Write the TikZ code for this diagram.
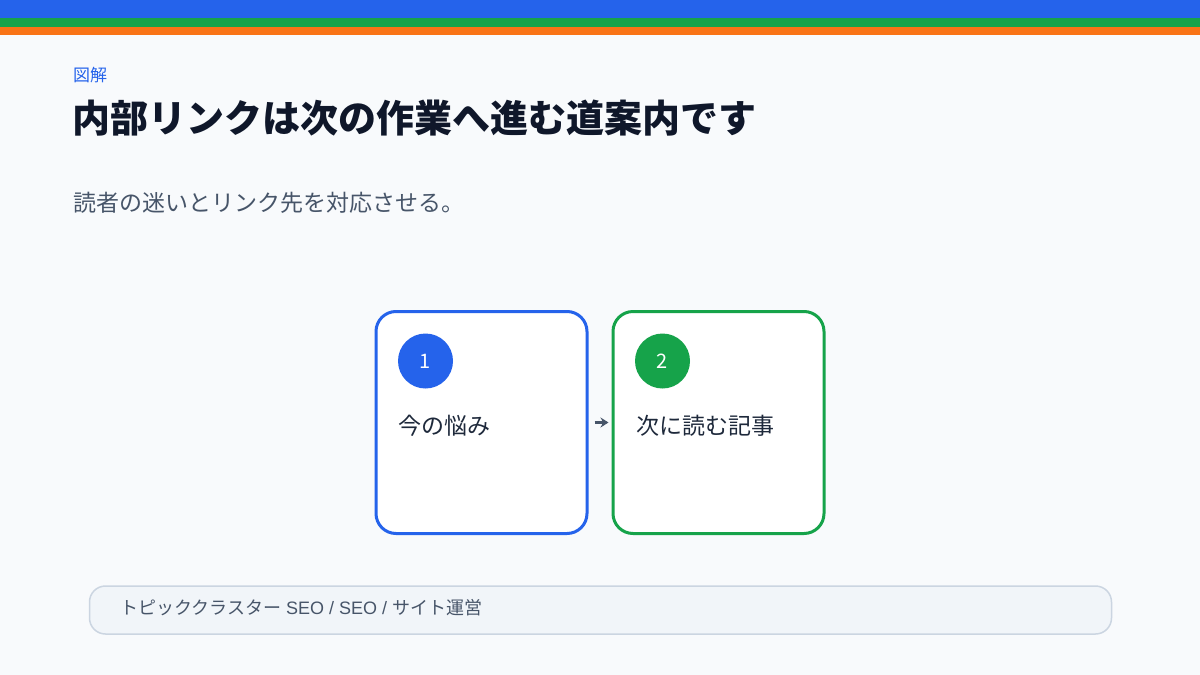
\documentclass[tikz,border=0pt]{standalone}
\usepackage{fontspec}
\setmainfont{Noto Sans CJK JP}
\newfontfamily\latinfont{Liberation Sans}
\usetikzlibrary{arrows.meta}
\definecolor{bgc}{HTML}{F8FAFC}
\definecolor{blu}{HTML}{2563EB}
\definecolor{grn}{HTML}{16A34A}
\definecolor{org}{HTML}{F97316}
\definecolor{ink}{HTML}{0F172A}
\definecolor{sub}{HTML}{475569}
\definecolor{cardtxt}{HTML}{1E293B}
\definecolor{footfill}{HTML}{F1F5F9}
\definecolor{footline}{HTML}{CBD5E1}
\tikzset{
  card/.style={draw, line width=3pt, fill=white, rounded corners=20pt, minimum width=211pt, minimum height=222pt, inner sep=0pt},
  badge/.style={circle, minimum size=55pt, inner sep=0pt, text=white, font=\fontsize{20}{24}\selectfont},
  cardlabel/.style={anchor=west, inner sep=0pt, text=cardtxt, font=\fontsize{23}{27}\selectfont},
  flow/.style={draw=sub, line width=2.5pt, -{Stealth[length=8pt,width=10pt]}},
  txt/.style={anchor=west, inner sep=0pt}
}
\begin{document}
\begin{tikzpicture}[x=1pt,y=-1pt]
\useasboundingbox (0,0) rectangle (1200,675);
\fill[bgc] (0,0) rectangle (1200,675);
\fill[blu] (0,0) rectangle (1200,17.5);
\fill[grn] (0,17.5) rectangle (1200,27);
\fill[org] (0,27) rectangle (1200,35);

\node[txt, text=blu, font=\fontsize{17}{20}\selectfont] (kicker) at (73,75) {図解};
\node[txt, text=ink, font=\fontsize{38}{46}\selectfont\bfseries] (title) at (72,118) {内部リンクは次の作業へ進む道案内です};
\node[txt, text=sub, font=\fontsize{23}{27}\selectfont] (lead) at (73,203) {読者の迷いとリンク先を対応させる。};

\node[card, draw=blu] (c1) at (481.5,422.5) {};
\node[card, draw=grn] (c2) at (718.5,422.5) {};

\node[badge, fill=blu] (b1) at (425.5,361) {1};
\node[badge, fill=grn] (b2) at (662.5,361) {2};

\node[cardlabel] (t1) at (398,426) {今の悩み};
\node[cardlabel] (t2) at (636,426) {次に読む記事};

\draw[flow] ([xshift=6pt]c1.east) -- ([xshift=-3pt]c2.west);

\node[draw=footline, fill=footfill, line width=1.5pt, rounded corners=16pt, minimum width=1022pt, minimum height=48pt, inner sep=0pt] (foot) at (600.5,610) {};
\node[txt, text=sub, font=\fontsize{18}{21}\selectfont] (foottext) at (120,608) {トピッククラスター{\latinfont\ SEO / SEO /\ }サイト運営};
\end{tikzpicture}
\end{document}
